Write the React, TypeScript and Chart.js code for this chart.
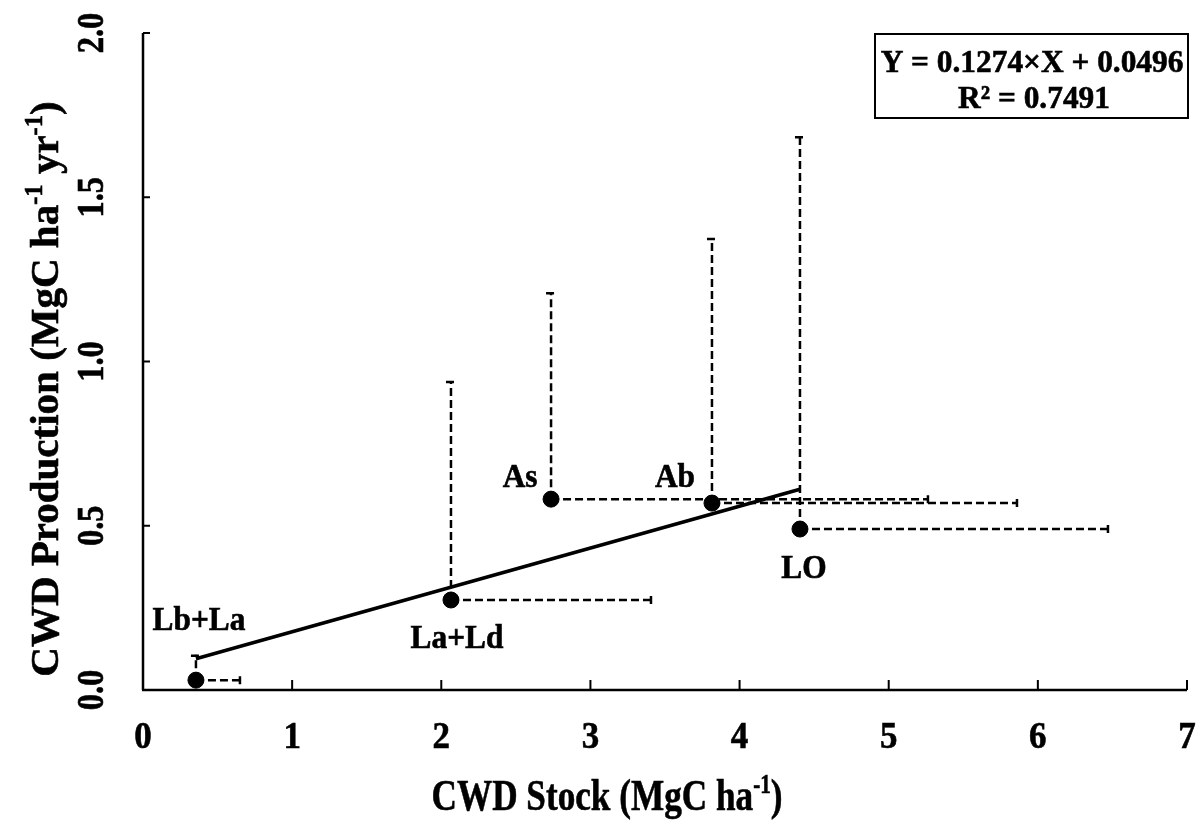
import React, { useEffect, useRef } from "react";
import { Chart, registerables } from "chart.js";

Chart.register(...registerables);

// ---- data ----
const siteNames = ["Lb+La", "La+Ld", "As", "Ab", "LO"];
const stockX = [0.355, 2.065, 2.736, 3.815, 4.405];
const productionY = [0.03, 0.274, 0.581, 0.569, 0.49];
const stockXUpper = [0.65, 3.406, 5.263, 5.86, 6.47];
const productionYUpper = [0.107, 0.941, 1.211, 1.376, 1.686];
const fitLineX = [0.355, 4.405];
const fitLineY = [0.095, 0.611];
const xTickValues = [0, 1, 2, 3, 4, 5, 6, 7];
const yTickValues = [0, 0.5, 1.0, 1.5, 2.0];
const yTickLabels = ["0.0", "0.5", "1.0", "1.5", "2.0"];
const equationLine1 = "Y = 0.1274×X + 0.0496";
const equationLine2 = "R² = 0.7491";

// label offsets (pixels, relative to each point): [dx, dy of baseline]
const labelOffsets = [
  [3, -50],
  [6, 48],
  [-31, -12],
  [-37, -16],
  [4, 49],
];

const FONT = '"Liberation Serif", "Times New Roman", serif';

type Part = { t: string; sup?: boolean };

function drawRich(
  ctx: CanvasRenderingContext2D,
  parts: Part[],
  x: number,
  y: number,
  size: number,
  sx: number,
  rot: number
) {
  ctx.save();
  ctx.translate(x, y);
  ctx.rotate(rot);
  ctx.scale(sx, 1);
  ctx.fillStyle = "#000";
  ctx.strokeStyle = "#000";
  ctx.lineWidth = 0.6;
  ctx.textBaseline = "alphabetic";
  ctx.textAlign = "left";
  let total = 0;
  const widths: number[] = [];
  for (const p of parts) {
    ctx.font = `bold ${p.sup ? size * 0.6 : size}px ${FONT}`;
    const w = ctx.measureText(p.t).width;
    widths.push(w);
    total += w;
  }
  let cx = -total / 2;
  parts.forEach((p, i) => {
    ctx.font = `bold ${p.sup ? size * 0.6 : size}px ${FONT}`;
    const yy = p.sup ? -size * 0.38 : 0;
    ctx.fillText(p.t, cx, yy);
    ctx.strokeText(p.t, cx, yy);
    cx += widths[i];
  });
  ctx.restore();
}

const customPlugin = {
  id: "customDraw",
  beforeDatasetsDraw(chart: any) {
    const ctx: CanvasRenderingContext2D = chart.ctx;
    const xs = chart.scales.x;
    const ys = chart.scales.y;
    ctx.save();
    ctx.strokeStyle = "#000";
    ctx.lineWidth = 2.5;
    for (let i = 0; i < stockX.length; i++) {
      const px = xs.getPixelForValue(stockX[i]);
      const py = ys.getPixelForValue(productionY[i]);
      const pxU = xs.getPixelForValue(stockXUpper[i]);
      const pyU = ys.getPixelForValue(productionYUpper[i]);
      ctx.setLineDash([8, 4]);
      ctx.beginPath();
      ctx.moveTo(px, py);
      ctx.lineTo(px, pyU);
      ctx.moveTo(px, py);
      ctx.lineTo(pxU, py);
      ctx.stroke();
      ctx.setLineDash([]);
      ctx.beginPath();
      ctx.moveTo(px - 5, pyU + 1);
      ctx.lineTo(px + 3, pyU + 1);
      ctx.moveTo(pxU, py - 4);
      ctx.lineTo(pxU, py + 4);
      ctx.stroke();
    }
    ctx.restore();
  },
  afterDraw(chart: any) {
    const ctx: CanvasRenderingContext2D = chart.ctx;
    const xs = chart.scales.x;
    const ys = chart.scales.y;
    const area = chart.chartArea;
    ctx.save();
    ctx.strokeStyle = "#000";
    ctx.lineWidth = 2.5;
    // axes
    ctx.beginPath();
    ctx.moveTo(area.left - 1, area.bottom);
    ctx.lineTo(area.right, area.bottom);
    ctx.moveTo(area.left, area.bottom);
    ctx.lineTo(area.left, area.top);
    ctx.stroke();
    // ticks (inward)
    ctx.lineWidth = 2;
    ctx.beginPath();
    xTickValues.forEach((v) => {
      const px = xs.getPixelForValue(v);
      ctx.moveTo(px, area.bottom);
      ctx.lineTo(px, area.bottom - 10);
    });
    yTickValues.forEach((v) => {
      const py = ys.getPixelForValue(v);
      ctx.moveTo(area.left, py);
      ctx.lineTo(area.left + 7, py);
    });
    ctx.stroke();
    ctx.restore();

    // tick labels
    xTickValues.forEach((v) => {
      drawRich(ctx, [{ t: String(v) }], xs.getPixelForValue(v), 748, 38, 0.92, 0);
    });
    yTickValues.forEach((v, i) => {
      drawRich(ctx, [{ t: yTickLabels[i] }], 103, ys.getPixelForValue(v), 37, 0.88, -Math.PI / 2);
    });

    // axis titles
    drawRich(
      ctx,
      [{ t: "CWD Stock (MgC ha" }, { t: "-1", sup: true }, { t: ")" }],
      607,
      810,
      44,
      0.8,
      0
    );
    drawRich(
      ctx,
      [
        { t: "CWD Production (MgC ha" },
        { t: "-1", sup: true },
        { t: " yr" },
        { t: "-1", sup: true },
        { t: ")" },
      ],
      58,
      389,
      41,
      1,
      -Math.PI / 2
    );

    // point labels
    siteNames.forEach((name, i) => {
      const px = xs.getPixelForValue(stockX[i]);
      const py = ys.getPixelForValue(productionY[i]);
      drawRich(ctx, [{ t: name }], px + labelOffsets[i][0], py + labelOffsets[i][1], 33, 0.95, 0);
    });

    // equation box
    ctx.save();
    ctx.strokeStyle = "#000";
    ctx.lineWidth = 2;
    ctx.strokeRect(875, 34, 313, 84);
    ctx.restore();
    drawRich(ctx, [{ t: equationLine1 }], 1032, 72, 32, 0.98, 0);
    drawRich(ctx, [{ t: equationLine2 }], 1034, 108, 32, 0.98, 0);
  },
};

export default function App() {
  const ref = useRef<HTMLCanvasElement | null>(null);
  useEffect(() => {
    document.body.style.margin = "0";
    const canvas = ref.current;
    if (!canvas) return;
    const chart = new Chart(canvas, {
      type: "scatter",
      data: {
        datasets: [
          {
            type: "line",
            data: fitLineX.map((x, i) => ({ x, y: fitLineY[i] })),
            borderColor: "#000",
            borderWidth: 3.5,
            pointRadius: 0,
            showLine: true,
            fill: false,
            clip: false as any,
          },
          {
            type: "scatter",
            data: stockX.map((x, i) => ({ x, y: productionY[i] })),
            backgroundColor: "#000",
            borderColor: "#000",
            pointRadius: 8,
            pointHoverRadius: 8,
            clip: false as any,
          },
        ],
      },
      options: {
        responsive: false,
        animation: false,
        events: [],
        layout: { padding: { top: 33, right: 14, left: 0, bottom: 0 } },
        plugins: {
          legend: { display: false },
          tooltip: { enabled: false },
          title: { display: false },
        },
        scales: {
          x: {
            type: "linear",
            min: 0,
            max: 7,
            grid: { display: false },
            border: { display: false },
            ticks: { display: false },
            afterFit: (s: any) => {
              s.height = 132;
            },
          },
          y: {
            type: "linear",
            min: 0,
            max: 2,
            grid: { display: false },
            border: { display: false },
            ticks: { display: false },
            afterFit: (s: any) => {
              s.width = 143;
            },
          },
        },
      },
      plugins: [customPlugin],
    });
    return () => chart.destroy();
  }, []);
  return (
    <div style={{ width: 1201, height: 822, background: "#fff" }}>
      <canvas ref={ref} width={1201} height={822} style={{ display: "block" }} />
    </div>
  );
}
